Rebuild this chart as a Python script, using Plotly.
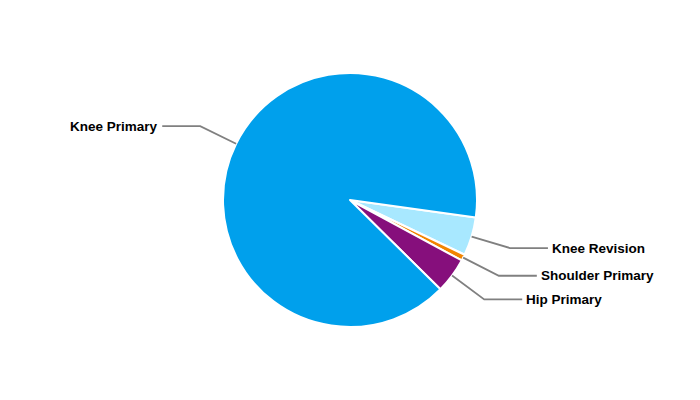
import math
import plotly.graph_objects as go

labels = ["Knee Revision", "Shoulder Primary", "Hip Primary", "Knee Primary"]
values = [4.9, 0.8, 4.5, 89.8]
colors = ["#A8E8FF", "#F28500", "#860F7C", "#00A0EC"]

OFF = 8  # page body margin
W, H = 700 - OFF, 400 - OFF
CX, CY, R = 350 - OFF, 200 - OFF, 127
ROTATION = 97.9  # degrees clockwise from 12 o'clock where first slice starts
ELBOW = 40
HSEG = 38

fig = go.Figure(go.Pie(
    labels=labels, values=values, sort=False, direction="clockwise",
    rotation=ROTATION,
    marker=dict(colors=colors, line=dict(color="white", width=2)),
    textinfo="none", textposition="inside", hoverinfo="label+percent",
    domain=dict(x=[(CX - R) / W, (CX + R) / W], y=[(H - CY - R) / H, (H - CY + R) / H]),
    showlegend=False,
))

def px2paper(x, y):
    return x / W, 1 - y / H

shapes, annotations = [], []
total = sum(values)
cum = 0.0
for lab, v in zip(labels, values):
    start = ROTATION + 360 * cum / total
    mid = start + 360 * (v / total) / 2
    cum += v
    a = math.radians(mid)
    dx, dy = math.sin(a), -math.cos(a)
    x0, y0 = CX + R * dx, CY + R * dy
    x1, y1 = CX + (R + ELBOW) * dx, CY + (R + ELBOW) * dy
    side = 1 if dx >= 0 else -1
    x2, y2 = x1 + side * HSEG, y1
    p0, p1, p2 = px2paper(x0, y0), px2paper(x1, y1), px2paper(x2, y2)
    path = f"M {p0[0]},{p0[1]} L {p1[0]},{p1[1]} L {p2[0]},{p2[1]}"
    shapes.append(dict(type="path", xref="paper", yref="paper", path=path,
                       line=dict(color="#808080", width=1.8)))
    tx, ty = px2paper(x2 + side * 2, y2)
    annotations.append(dict(x=tx, y=ty, xref="paper", yref="paper", text=f"<b>{lab}</b>",
                            showarrow=False, xanchor="left" if side > 0 else "right",
                            yanchor="middle",
                            font=dict(family="Liberation Sans, Arial, sans-serif", size=13.5, color="black")))

fig.update_layout(width=W, height=H, margin=dict(l=0, r=0, t=0, b=0),
                  paper_bgcolor="white", plot_bgcolor="white",
                  shapes=shapes, annotations=annotations)
fig.write_html("out.html")
